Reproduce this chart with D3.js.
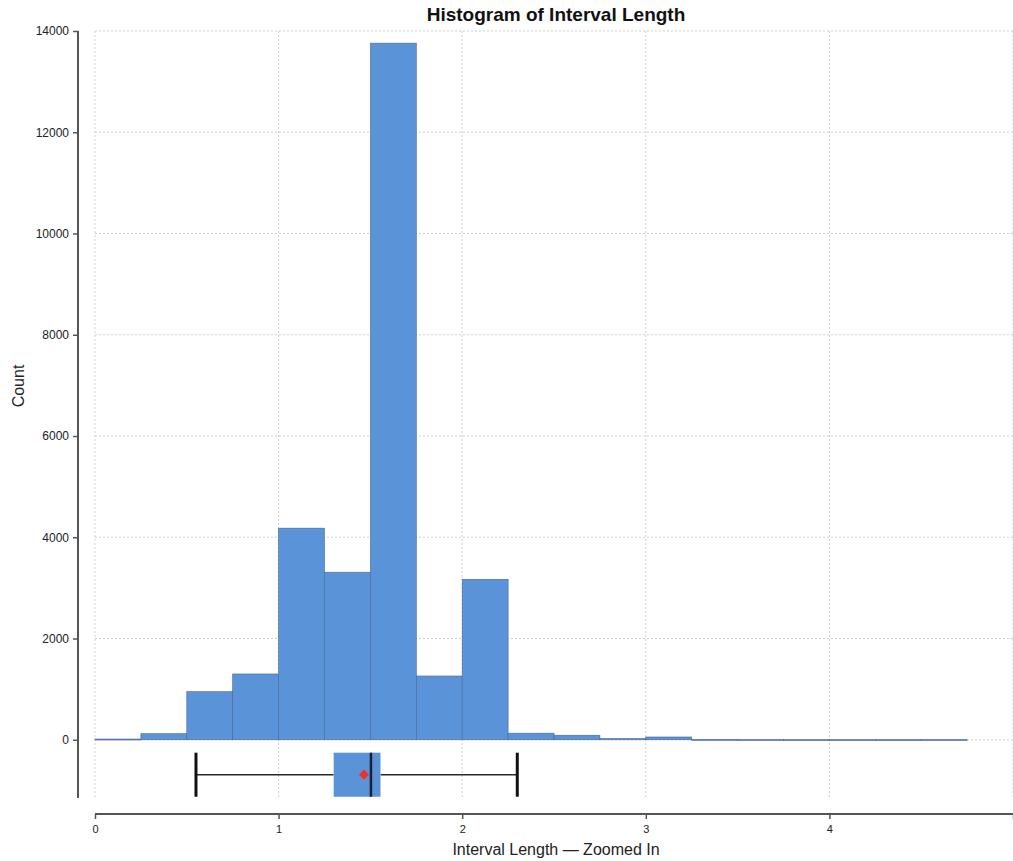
<!DOCTYPE html>
<html><head><meta charset="utf-8">
<script src="https://cdn.jsdelivr.net/npm/d3@7"></script>
<style>body{margin:0;background:#fff;} svg{display:block;font-family:"Liberation Sans",Arial,sans-serif;}</style>
</head><body>
<svg id="chart" width="1013" height="861"></svg>
<script>
const binEdges = [0,0.25,0.5,0.75,1.0,1.25,1.5,1.75,2.0,2.25,2.5,2.75,3.0,3.25,3.5,3.75,4.0,4.25,4.5,4.75];
const binCounts = [15,120,950,1300,4180,3310,13760,1260,3170,130,90,25,55,8,5,3,3,2,5];
const xTicks = [0,1,2,3,4,5];
const xTickLabels = ["0","1","2","3","4",""];
const yTicks = [0,2000,4000,6000,8000,10000,12000,14000];
const boxStats = {whiskerLow:0.55, q1:1.30, median:1.503, q3:1.555, whiskerHigh:2.30, mean:1.465};
const boxBand = {top:-255, bottom:-1125};

const svg = d3.select("#chart");
const x = d3.scaleLinear().domain([0,5]).range([95,1013]);
const y = d3.scaleLinear().domain([-1150,14000]).range([798,31]);

// grid
const grid = svg.append("g");
grid.selectAll("line.vg").data(xTicks).enter().append("line")
  .attr("x1",d=>x(d)).attr("x2",d=>x(d)).attr("y1",y(14000)).attr("y2",y(-1150))
  .attr("stroke","#cfcfcf").attr("stroke-width",1).attr("stroke-dasharray","2,2");
grid.selectAll("line.hg").data(yTicks).enter().append("line")
  .attr("x1",x(0)).attr("x2",x(5)).attr("y1",d=>y(d)).attr("y2",d=>y(d))
  .attr("stroke","#cfcfcf").attr("stroke-width",1).attr("stroke-dasharray","2,2");

// bars
const bins = binCounts.map((c,i)=>({x0:binEdges[i], x1:binEdges[i+1], c}));
svg.append("g").selectAll("rect").data(bins).enter().append("rect")
  .attr("x",d=>x(d.x0)).attr("width",d=>x(d.x1)-x(d.x0))
  .attr("y",d=>y(d.c)).attr("height",d=>Math.max(1,y(0)-y(d.c)))
  .attr("fill","#5b93d9").attr("stroke","#46689a").attr("stroke-width",0.6);

// boxplot
const bp = svg.append("g");
const yc = y((boxBand.top+boxBand.bottom)/2);
bp.append("line").attr("x1",x(boxStats.whiskerLow)).attr("x2",x(boxStats.q1))
  .attr("y1",yc).attr("y2",yc).attr("stroke","#2a2a2a").attr("stroke-width",1.5);
bp.append("line").attr("x1",x(boxStats.q3)).attr("x2",x(boxStats.whiskerHigh))
  .attr("y1",yc).attr("y2",yc).attr("stroke","#2a2a2a").attr("stroke-width",1.5);
bp.append("rect").attr("x",x(boxStats.q1)).attr("width",x(boxStats.q3)-x(boxStats.q1))
  .attr("y",y(boxBand.top)).attr("height",y(boxBand.bottom)-y(boxBand.top))
  .attr("fill","#5b93d9");
bp.selectAll("line.cap").data([boxStats.whiskerLow,boxStats.whiskerHigh]).enter().append("line")
  .attr("x1",d=>x(d)).attr("x2",d=>x(d)).attr("y1",y(boxBand.top)).attr("y2",y(boxBand.bottom))
  .attr("stroke","#111").attr("stroke-width",3);
bp.append("line").attr("x1",x(boxStats.median)).attr("x2",x(boxStats.median))
  .attr("y1",y(boxBand.top)).attr("y2",y(boxBand.bottom)).attr("stroke","#152238").attr("stroke-width",2.5);
bp.append("path").attr("d",d3.symbol().type(d3.symbolSquare).size(52)())
  .attr("transform",`translate(${x(boxStats.mean)},${yc}) rotate(45)`).attr("fill","#f0302a");

// axes
const yAxis = svg.append("g").attr("transform","translate(78,0)")
  .call(d3.axisLeft(y).tickValues(yTicks).tickSize(5).tickPadding(4).tickFormat(d3.format("d")));
yAxis.select(".domain").attr("d",`M0,${y(14000)}V${y(-1150)}`).attr("stroke","#555").attr("stroke-width",2);
yAxis.selectAll(".tick line").attr("stroke","#555").attr("stroke-width",1.5);
yAxis.selectAll(".tick text").attr("font-size",12).attr("fill","#222").style("font-family","Liberation Sans, Arial, sans-serif");

const xAxis = svg.append("g").attr("transform","translate(0,814)")
  .call(d3.axisBottom(x).tickValues(xTicks).tickSize(5).tickPadding(6).tickFormat((d,i)=>xTickLabels[i]));
xAxis.select(".domain").attr("d",`M${x(0)},0H${x(5)}`).attr("stroke","#555").attr("stroke-width",2);
xAxis.selectAll(".tick line").attr("stroke","#555").attr("stroke-width",1.5);
xAxis.selectAll(".tick text").attr("font-size",11).attr("fill","#222").style("font-family","Liberation Sans, Arial, sans-serif");

// labels
svg.append("text").attr("x",556).attr("y",21).attr("text-anchor","middle")
  .attr("font-size",19).attr("font-weight","bold").attr("fill","#111").text("Histogram of Interval Length");
svg.append("text").attr("x",556).attr("y",855).attr("text-anchor","middle")
  .attr("font-size",16).attr("fill","#222").text("Interval Length — Zoomed In");
svg.append("text").attr("transform","translate(24,386) rotate(-90)").attr("text-anchor","middle")
  .attr("font-size",16).attr("fill","#222").text("Count");
</script>
</body></html>
